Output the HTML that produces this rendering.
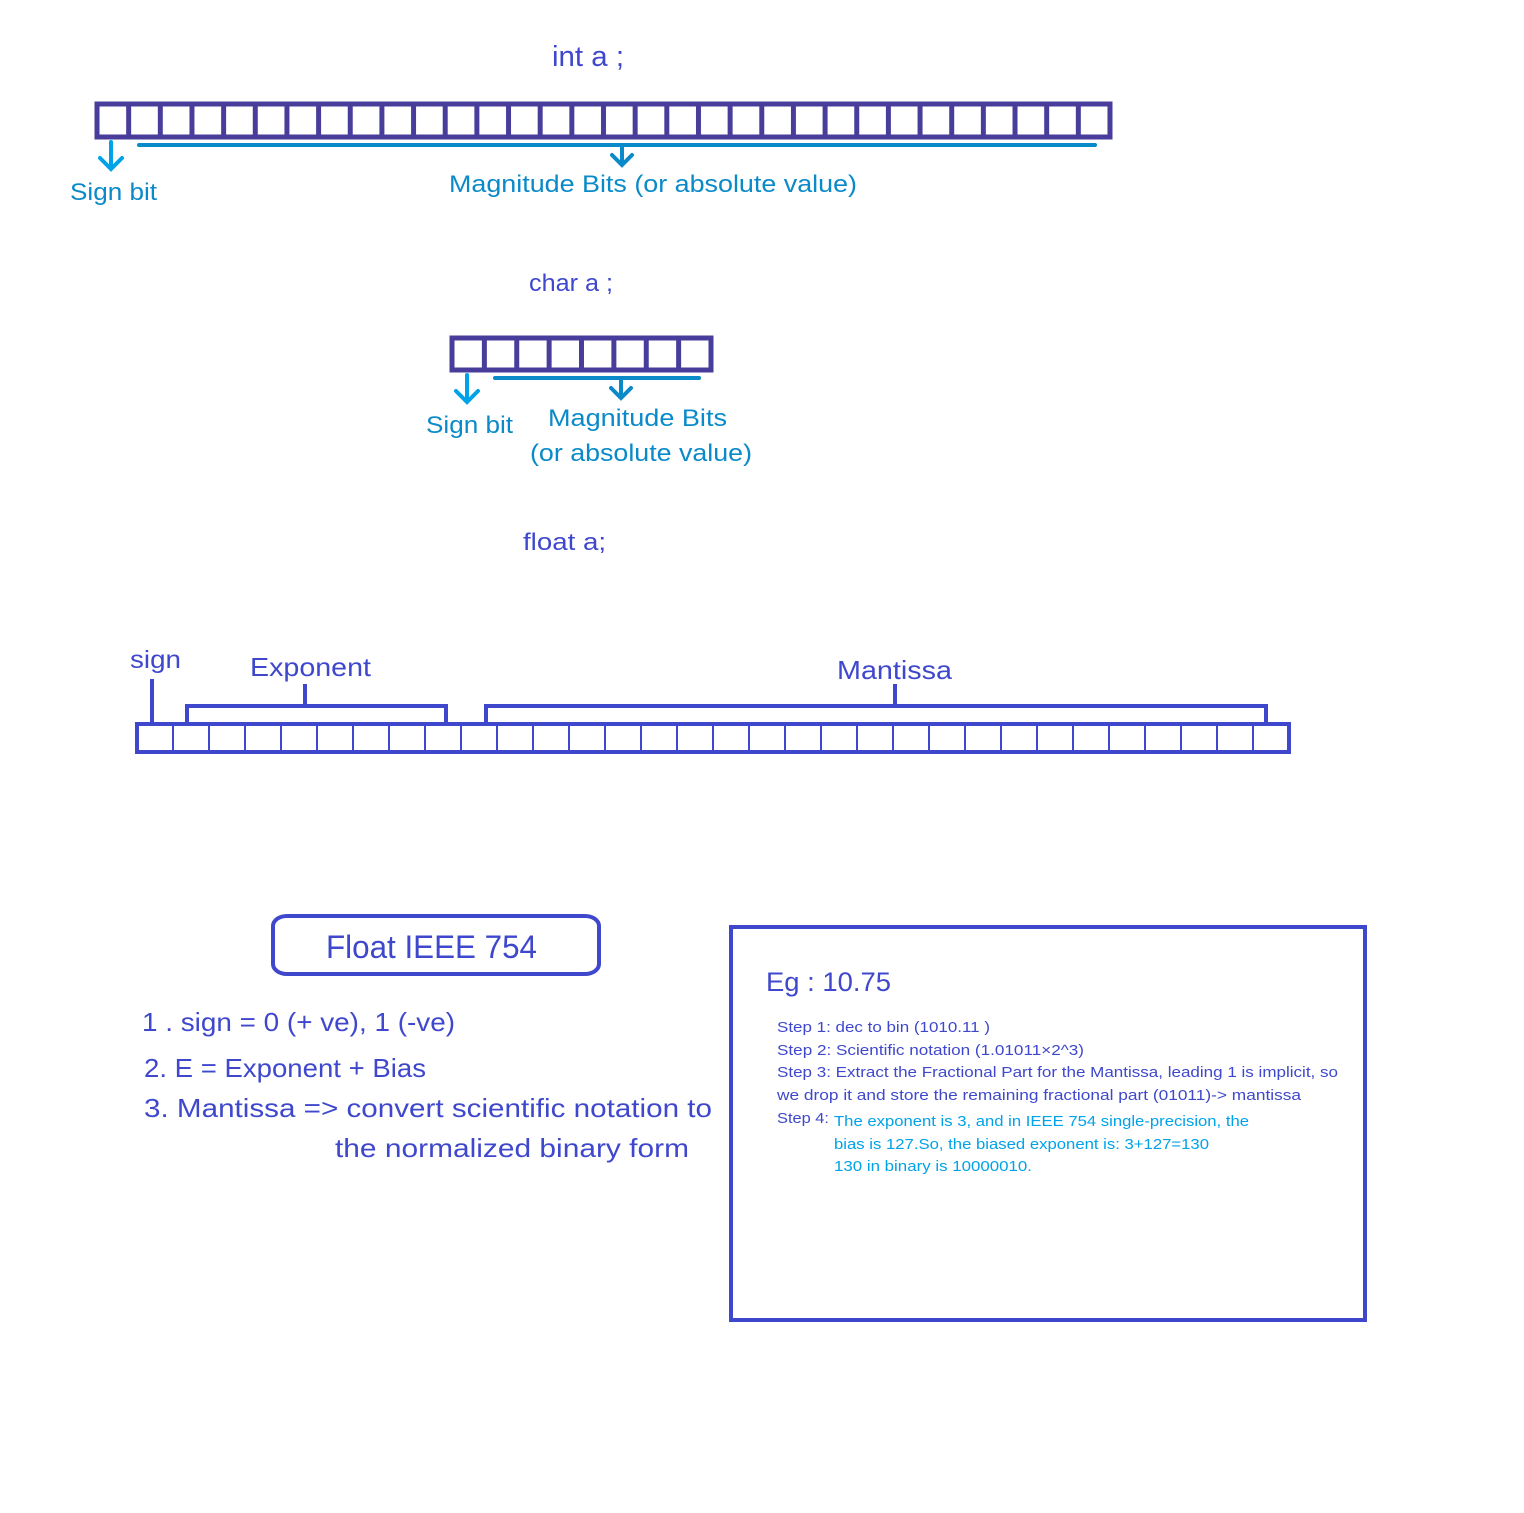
<!DOCTYPE html>
<html><head><meta charset="utf-8"><style>
html,body{margin:0;padding:0;background:#fff;}
svg{display:block;}
text{font-family:"Liberation Sans",sans-serif;}
</style></head><body>
<svg width="1524" height="1513" viewBox="0 0 1524 1513" xmlns="http://www.w3.org/2000/svg">
<defs>
<pattern id="pi" x="97" y="0" width="31.656" height="40" patternUnits="userSpaceOnUse"><rect x="-2.5" y="0" width="5" height="40" fill="#483D9B"/><rect x="29.156" y="0" width="5" height="40" fill="#483D9B"/></pattern>
<pattern id="pc" x="452" y="0" width="32.375" height="40" patternUnits="userSpaceOnUse"><rect x="-2.5" y="0" width="5" height="40" fill="#483D9B"/><rect x="29.875" y="0" width="5" height="40" fill="#483D9B"/></pattern>
<pattern id="pf" x="137" y="0" width="36" height="40" patternUnits="userSpaceOnUse"><rect x="-1" y="0" width="2" height="40" fill="#3F48CC"/><rect x="35" y="0" width="2" height="40" fill="#3F48CC"/></pattern>
</defs>

<g lengthAdjust="spacingAndGlyphs">
<!-- int -->
<text x="552" y="66" font-size="29" fill="#3F48CC" textLength="72" lengthAdjust="spacingAndGlyphs">int a ;</text>
<rect x="97" y="104" width="1013" height="33" fill="url(#pi)"/>
<rect x="97" y="104" width="1013" height="33" fill="none" stroke="#483D9B" stroke-width="5"/>
<g stroke="#00A2E8" stroke-width="4" fill="none" stroke-linecap="round">
<path d="M111 142 V168 M100 158 L111 169 L122 158"/>
</g>
<g stroke="#0A8AC8" stroke-width="4" fill="none" stroke-linecap="round">
<path d="M139 145 H1095 M622 145 V164 M612 155 L622 165 L632 155"/>
</g>
<text x="70" y="200" font-size="24" fill="#0A8AC8" textLength="87" lengthAdjust="spacingAndGlyphs">Sign bit</text>
<text x="449" y="192" font-size="24" fill="#0A8AC8" textLength="408" lengthAdjust="spacingAndGlyphs">Magnitude Bits (or absolute value)</text>

<!-- char -->
<text x="529" y="291" font-size="24" fill="#3F48CC" textLength="84" lengthAdjust="spacingAndGlyphs">char a ;</text>
<rect x="452" y="338" width="259" height="32" fill="url(#pc)"/>
<rect x="452" y="338" width="259" height="32" fill="none" stroke="#483D9B" stroke-width="5"/>
<g stroke="#00A2E8" stroke-width="4" fill="none" stroke-linecap="round">
<path d="M467 375 V401 M456 391 L467 402 L478 391"/>
</g>
<g stroke="#0A8AC8" stroke-width="4" fill="none" stroke-linecap="round">
<path d="M495 378 H699 M621 378 V396 M611 388 L621 398 L631 388"/>
</g>
<text x="426" y="433" font-size="24" fill="#0A8AC8" textLength="87" lengthAdjust="spacingAndGlyphs">Sign bit</text>
<text x="548" y="426" font-size="24" fill="#0A8AC8" textLength="179" lengthAdjust="spacingAndGlyphs">Magnitude Bits</text>
<text x="530" y="461" font-size="24" fill="#0A8AC8" textLength="222" lengthAdjust="spacingAndGlyphs">(or absolute value)</text>

<!-- float -->
<text x="523" y="550" font-size="24" fill="#3F48CC" textLength="83" lengthAdjust="spacingAndGlyphs">float a;</text>
<text x="130" y="668" font-size="25" fill="#3F48CC" textLength="51" lengthAdjust="spacingAndGlyphs">sign</text>
<text x="250" y="676" font-size="26" fill="#3F48CC" textLength="121" lengthAdjust="spacingAndGlyphs">Exponent</text>
<text x="837" y="679" font-size="26" fill="#3F48CC" textLength="115" lengthAdjust="spacingAndGlyphs">Mantissa</text>
<g stroke="#3F48CC" stroke-width="4" fill="none">
<path d="M152 679 V724"/>
<path d="M187 724 V706 H446 V724 M305 684 V706"/>
<path d="M486 724 V706 H1266 V724 M895 684 V706"/>
</g>
<rect x="137" y="724" width="1152" height="28" fill="url(#pf)"/>
<rect x="137" y="724" width="1152" height="28" fill="none" stroke="#3F48CC" stroke-width="4"/>

<!-- Float IEEE box -->
<rect x="273" y="916" width="326" height="58" rx="14" ry="10" fill="none" stroke="#3F48CC" stroke-width="4"/>
<text x="326" y="958" font-size="32" fill="#3F48CC" textLength="211" lengthAdjust="spacingAndGlyphs">Float IEEE 754</text>
<text x="142" y="1031" font-size="26" fill="#3F48CC" textLength="313" lengthAdjust="spacingAndGlyphs">1 . sign = 0 (+ ve), 1 (-ve)</text>
<text x="144" y="1077" font-size="26" fill="#3F48CC" textLength="282" lengthAdjust="spacingAndGlyphs">2. E = Exponent + Bias</text>
<text x="144" y="1117" font-size="26" fill="#3F48CC" textLength="568" lengthAdjust="spacingAndGlyphs">3. Mantissa =&gt; convert scientific notation to</text>
<text x="335" y="1157" font-size="26" fill="#3F48CC" textLength="354" lengthAdjust="spacingAndGlyphs">the normalized binary form</text>

<!-- example box -->
<rect x="731" y="927" width="634" height="393" fill="none" stroke="#3F48CC" stroke-width="4"/>
<text x="766" y="991" font-size="27" fill="#3F48CC" textLength="125" lengthAdjust="spacingAndGlyphs">Eg : 10.75</text>
<g font-size="15" fill="#3F48CC">
<text x="777" y="1032" textLength="213" lengthAdjust="spacingAndGlyphs">Step 1: dec to bin (1010.11 )</text>
<text x="777" y="1055" textLength="307" lengthAdjust="spacingAndGlyphs">Step 2: Scientific notation (1.01011×2^3)</text>
<text x="777" y="1077" textLength="561" lengthAdjust="spacingAndGlyphs">Step 3: Extract the Fractional Part for the Mantissa, leading 1 is implicit, so</text>
<text x="777" y="1100" textLength="524" lengthAdjust="spacingAndGlyphs">we drop it and store the remaining fractional part (01011)-&gt; mantissa</text>
<text x="777" y="1123" textLength="52" lengthAdjust="spacingAndGlyphs">Step 4:</text>
</g>
<g font-size="15" fill="#00A2E8">
<text x="834" y="1126" textLength="415" lengthAdjust="spacingAndGlyphs">The exponent is 3, and in IEEE 754 single-precision, the</text>
<text x="834" y="1149" textLength="375" lengthAdjust="spacingAndGlyphs">bias is 127.So, the biased exponent is: 3+127=130</text>
<text x="834" y="1171" textLength="198" lengthAdjust="spacingAndGlyphs">130 in binary is 10000010.</text>
</g>
</g>
</svg>
</body></html>
